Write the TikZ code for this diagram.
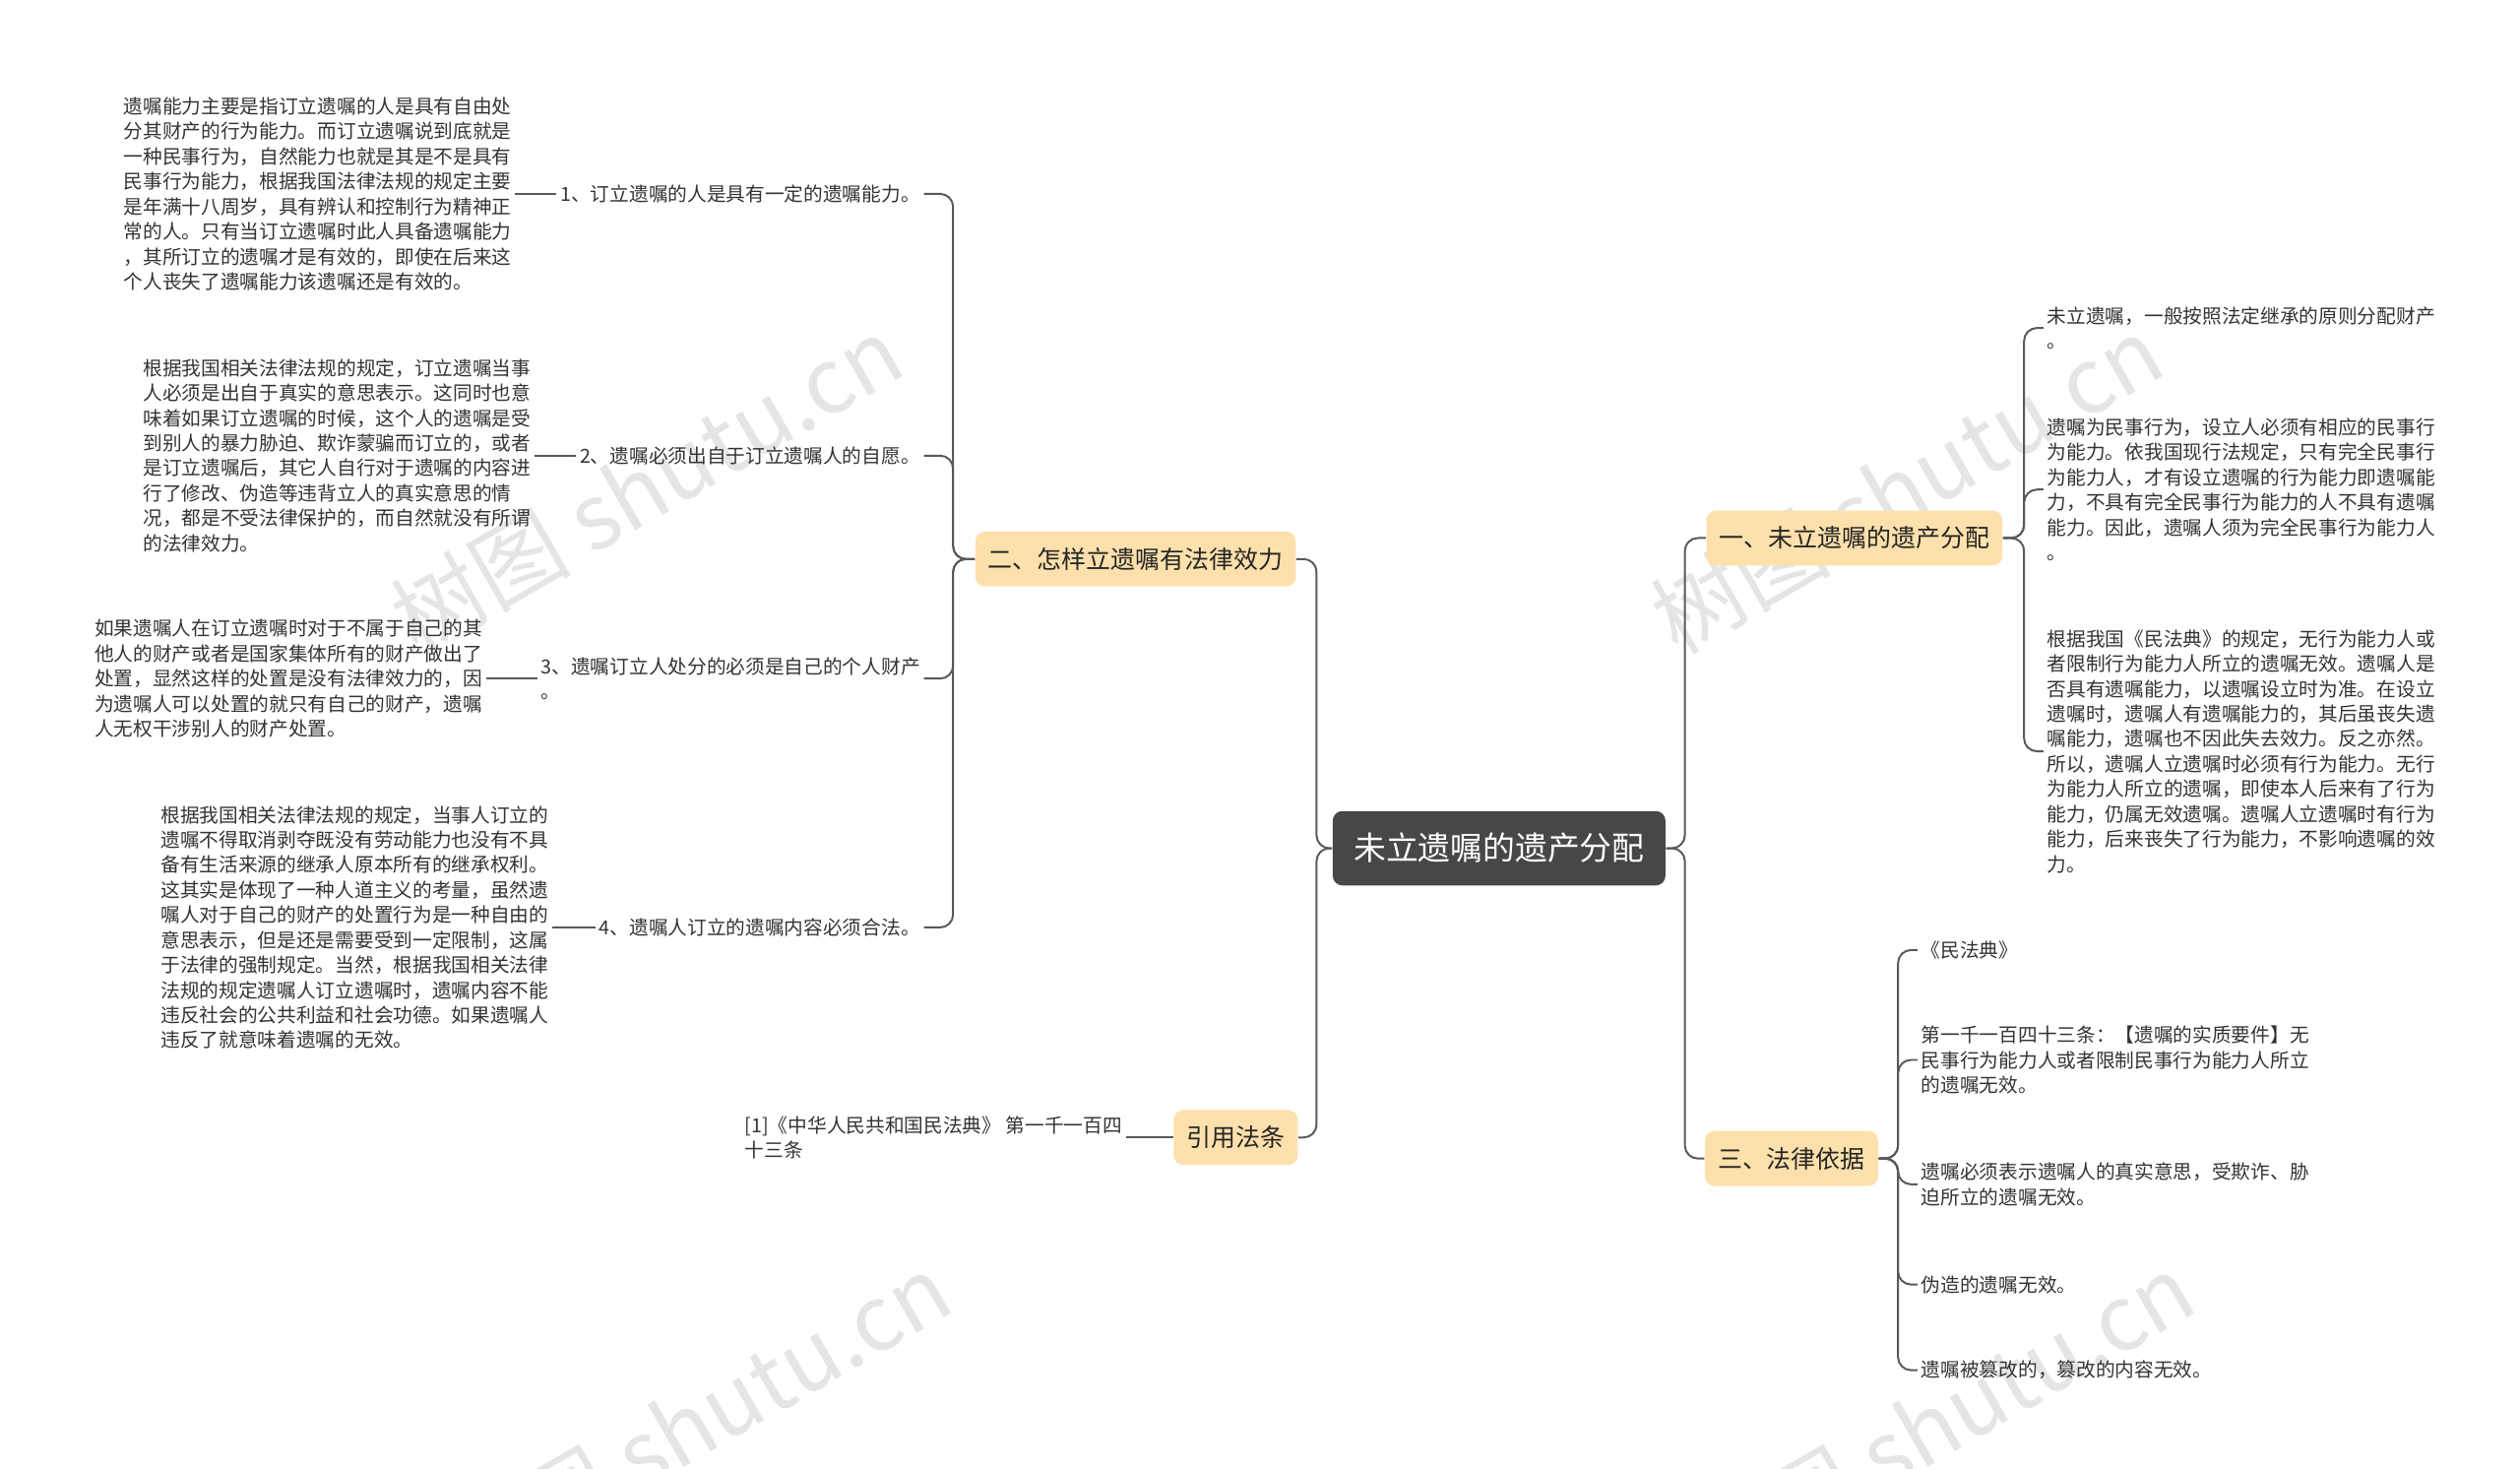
\documentclass[tikz,border=0pt]{standalone}
\usepackage{fontspec}
\setmainfont{Noto Sans CJK SC}
\begin{document}
\begin{tikzpicture}[x=0.5pt,y=-0.5pt,
 txt/.style={font=\fontsize{6}{7.75}\selectfont,text=black!80,align=left,inner sep=1pt},
 lvl/.style={fill=yellow!25!orange!30,rounded corners=3pt,font=\fontsize{7.6}{9}\selectfont,text=black!85,minimum height=17pt,inner xsep=4pt},
 ln/.style={draw=black!65,line width=0.6pt,rounded corners=4pt},
 wm/.style={font=\fontsize{28}{30}\selectfont,text=black!10,rotate=30}]
\useasboundingbox (0,0) rectangle (1560,909);
\node[wm] at (400,300) {树图 shutu.cn};
\node[wm] at (1180,300) {树图 shutu.cn};
\node[wm] at (430,880) {树图 shutu.cn};
\node[wm] at (1200,880) {树图 shutu.cn};
\node[fill=black!72,text=white,rounded corners=3pt,font=\fontsize{10}{12}\selectfont,minimum width=103pt,minimum height=23pt] (root) at (928,525) {未立遗嘱的遗产分配};
\node[lvl] (A) at (703,346) {二、怎样立遗嘱有法律效力};
\node[lvl] (B) at (765,704) {引用法条};
\node[lvl] (C) at (1148,333) {一、未立遗嘱的遗产分配};
\node[lvl] (D) at (1109,717) {三、法律依据};
\foreach \n in {A,B} \draw[ln] (root.west) -- (815,525) |- (\n.east);
\foreach \n in {C,D} \draw[ln] (root.east) -- (1043,525) |- (\n.west);
% left items
\node[txt,anchor=east] (a1) at (572,120) {1、订立遗嘱的人是具有一定的遗嘱能力。};
\node[txt,anchor=east] (a2) at (572,282) {2、遗嘱必须出自于订立遗嘱人的自愿。};
\node[txt,anchor=east] (a3) at (572,420) {3、遗嘱订立人处分的必须是自己的个人财产\\。};
\node[txt,anchor=east] (a4) at (572,574) {4、遗嘱人订立的遗嘱内容必须合法。};
\foreach \n in {a1,a2,a3,a4} \draw[ln] (A.west) -- (590,346) |- (\n.east);
\node[txt,anchor=east] (d1) at (319,120) {遗嘱能力主要是指订立遗嘱的人是具有自由处\\分其财产的行为能力。而订立遗嘱说到底就是\\一种民事行为，自然能力也就是其是不是具有\\民事行为能力，根据我国法律法规的规定主要\\是年满十八周岁，具有辨认和控制行为精神正\\常的人。只有当订立遗嘱时此人具备遗嘱能力\\，其所订立的遗嘱才是有效的，即使在后来这\\个人丧失了遗嘱能力该遗嘱还是有效的。};
\node[txt,anchor=east] (d2) at (331,282) {根据我国相关法律法规的规定，订立遗嘱当事\\人必须是出自于真实的意思表示。这同时也意\\味着如果订立遗嘱的时候，这个人的遗嘱是受\\到别人的暴力胁迫、欺诈蒙骗而订立的，或者\\是订立遗嘱后，其它人自行对于遗嘱的内容进\\行了修改、伪造等违背立人的真实意思的情\\况，都是不受法律保护的，而自然就没有所谓\\的法律效力。};
\node[txt,anchor=east] (d3) at (301,420) {如果遗嘱人在订立遗嘱时对于不属于自己的其\\他人的财产或者是国家集体所有的财产做出了\\处置，显然这样的处置是没有法律效力的，因\\为遗嘱人可以处置的就只有自己的财产，遗嘱\\人无权干涉别人的财产处置。};
\node[txt,anchor=east] (d4) at (342,574) {根据我国相关法律法规的规定，当事人订立的\\遗嘱不得取消剥夺既没有劳动能力也没有不具\\备有生活来源的继承人原本所有的继承权利。\\这其实是体现了一种人道主义的考量，虽然遗\\嘱人对于自己的财产的处置行为是一种自由的\\意思表示，但是还是需要受到一定限制，这属\\于法律的强制规定。当然，根据我国相关法律\\法规的规定遗嘱人订立遗嘱时，遗嘱内容不能\\违反社会的公共利益和社会功德。如果遗嘱人\\违反了就意味着遗嘱的无效。};
\foreach \i in {1,2,3,4} \draw[ln] (d\i.east) -- (a\i.west);
\node[txt,anchor=east] (b1) at (697,704) {[1]《中华人民共和国民法典》 第一千一百四\\十三条};
\draw[ln] (B.west) -- (b1.east);
% right items
\node[txt,anchor=west] (c1) at (1265,203) {未立遗嘱，一般按照法定继承的原则分配财产\\。};
\node[txt,anchor=west] (c2) at (1265,303) {遗嘱为民事行为，设立人必须有相应的民事行\\为能力。依我国现行法规定，只有完全民事行\\为能力人，才有设立遗嘱的行为能力即遗嘱能\\力，不具有完全民事行为能力的人不具有遗嘱\\能力。因此，遗嘱人须为完全民事行为能力人\\。};
\node[txt,anchor=west] (c3) at (1265,465) {根据我国《民法典》的规定，无行为能力人或\\者限制行为能力人所立的遗嘱无效。遗嘱人是\\否具有遗嘱能力，以遗嘱设立时为准。在设立\\遗嘱时，遗嘱人有遗嘱能力的，其后虽丧失遗\\嘱能力，遗嘱也不因此失去效力。反之亦然。\\所以，遗嘱人立遗嘱时必须有行为能力。无行\\为能力人所立的遗嘱，即使本人后来有了行为\\能力，仍属无效遗嘱。遗嘱人立遗嘱时有行为\\能力，后来丧失了行为能力，不影响遗嘱的效\\力。};
\foreach \n in {c1,c2,c3} \draw[ln] (C.east) -- (1253,333) |- (\n.west);
\node[txt,anchor=west] (e1) at (1187,588) {《民法典》};
\node[txt,anchor=west] (e2) at (1187,656) {第一千一百四十三条：【遗嘱的实质要件】无\\民事行为能力人或者限制民事行为能力人所立\\的遗嘱无效。};
\node[txt,anchor=west] (e3) at (1187,733) {遗嘱必须表示遗嘱人的真实意思，受欺诈、胁\\迫所立的遗嘱无效。};
\node[txt,anchor=west] (e4) at (1187,795) {伪造的遗嘱无效。};
\node[txt,anchor=west] (e5) at (1187,848) {遗嘱被篡改的，篡改的内容无效。};
\foreach \n in {e1,e2,e3,e4,e5} \draw[ln] (D.east) -- (1175,717) |- (\n.west);
\end{tikzpicture}
\end{document}
